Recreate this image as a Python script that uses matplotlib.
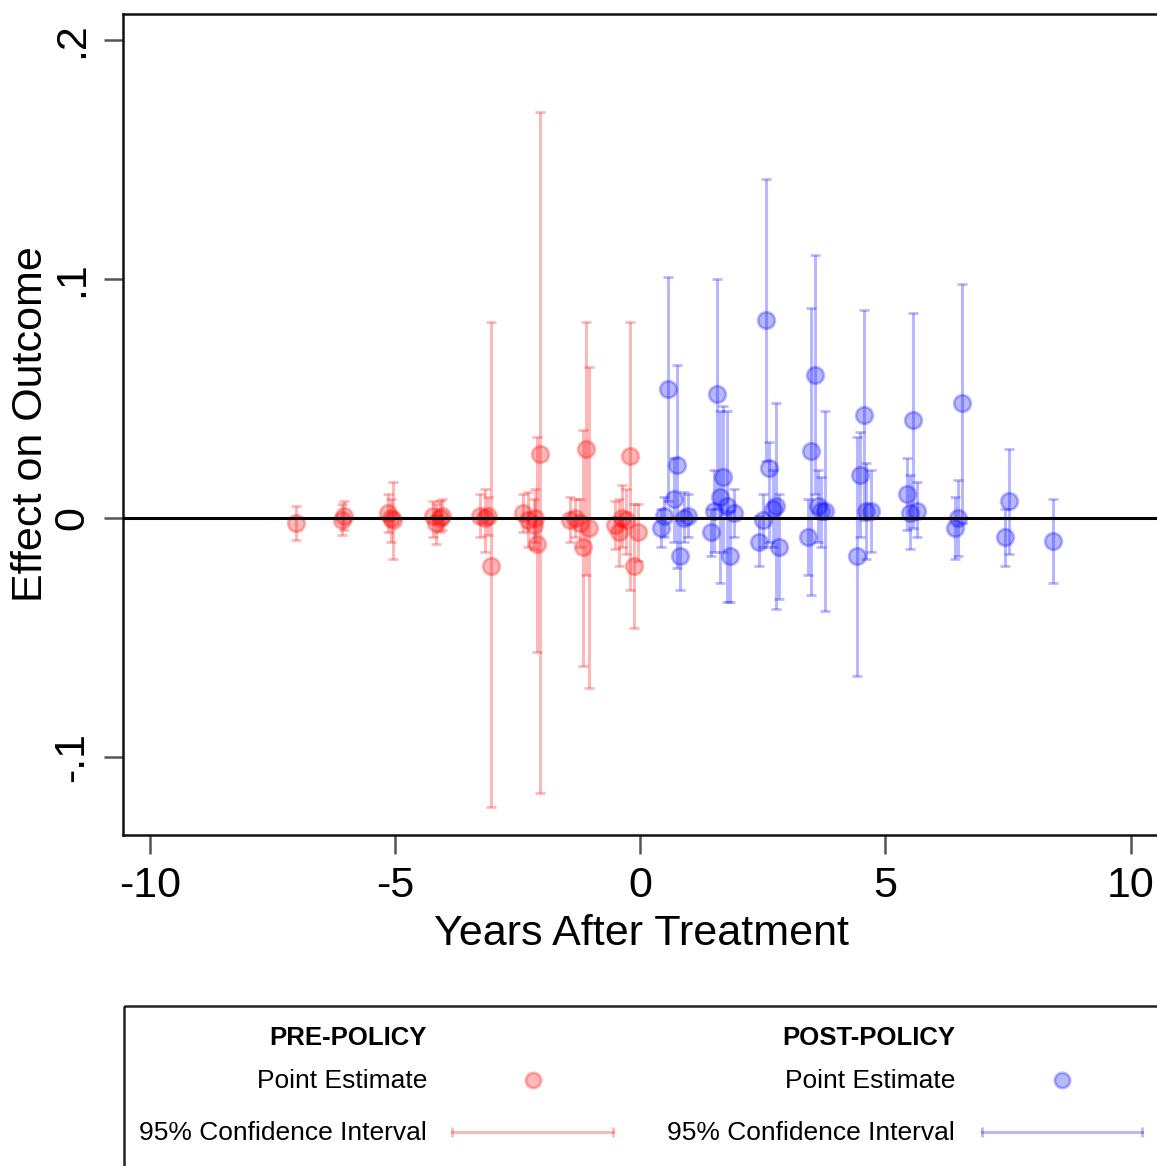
import matplotlib
matplotlib.use("Agg")
import matplotlib.pyplot as plt
import numpy as np
from matplotlib.patches import Rectangle

plt.rcParams['font.family'] = ['Liberation Sans', 'DejaVu Sans']

# event-study estimates before treatment: year, estimate, lower / upper 95% bound
pre_x = [-7.03, -6.08, -6.04, -5.14, -5.08, -5.04, -4.22, -4.16, -4.08, -4.04,
         -3.26, -3.16, -3.10, -3.04, -2.39, -2.28, -2.16, -2.14, -2.10, -2.04,
         -1.43, -1.33, -1.22, -1.16, -1.10, -1.04,
         -0.51, -0.43, -0.37, -0.29, -0.20, -0.12, -0.04]
pre_est = [-0.002, -0.001, 0.001, 0.002, 0.000, -0.001, 0.001, -0.002, 0.000, 0.001,
           0.001, 0.000, 0.001, -0.020, 0.002, -0.001, -0.003, 0.000, -0.011, 0.027,
           -0.001, 0.000, -0.002, -0.012, 0.029, -0.004,
           -0.003, -0.006, 0.000, -0.001, 0.026, -0.020, -0.006]
pre_lo = [-0.009, -0.007, -0.005, -0.006, -0.010, -0.017, -0.008, -0.011, -0.006, -0.005,
          -0.008, -0.014, -0.007, -0.121, -0.006, -0.012, -0.013, -0.010, -0.056, -0.115,
          -0.010, -0.008, -0.012, -0.062, -0.024, -0.071,
          -0.013, -0.020, -0.012, -0.015, -0.030, -0.046, -0.018]
pre_hi = [0.005, 0.006, 0.007, 0.010, 0.008, 0.015, 0.007, 0.006, 0.007, 0.008,
          0.010, 0.012, 0.009, 0.082, 0.010, 0.011, 0.008, 0.012, 0.034, 0.170,
          0.009, 0.008, 0.008, 0.037, 0.082, 0.063,
          0.007, 0.008, 0.014, 0.012, 0.082, 0.006, 0.006]

# estimates after treatment
post_x = [0.43, 0.49, 0.57, 0.69, 0.75, 0.82, 0.90, 0.98,
          1.45, 1.51, 1.57, 1.63, 1.69, 1.77, 1.83, 1.92,
          2.43, 2.51, 2.57, 2.63, 2.71, 2.77, 2.83,
          3.43, 3.49, 3.57, 3.63, 3.69, 3.77,
          4.42, 4.49, 4.57, 4.61, 4.71,
          5.44, 5.50, 5.57, 5.65,
          6.42, 6.48, 6.56,
          7.44, 7.52, 8.42]
post_est = [-0.004, 0.001, 0.054, 0.008, 0.022, -0.016, 0.000, 0.001,
            -0.006, 0.003, 0.052, 0.009, 0.017, 0.005, -0.016, 0.002,
            -0.010, -0.001, 0.083, 0.021, 0.004, 0.005, -0.012,
            -0.008, 0.028, 0.060, 0.005, 0.003, 0.003,
            -0.016, 0.018, 0.043, 0.003, 0.003,
            0.010, 0.002, 0.041, 0.003,
            -0.004, 0.000, 0.048,
            -0.008, 0.007, -0.0095]
post_lo = [-0.012, -0.008, 0.007, -0.010, -0.021, -0.030, -0.010, -0.008,
           -0.016, -0.014, 0.004, -0.027, -0.014, -0.035, -0.035, -0.008,
           -0.020, -0.012, 0.024, -0.010, -0.012, -0.038, -0.034,
           -0.024, -0.032, 0.010, -0.010, -0.012, -0.039,
           -0.066, -0.008, -0.001, -0.017, -0.014,
           -0.005, -0.013, -0.004, -0.008,
           -0.017, -0.016, -0.002,
           -0.020, -0.015, -0.027]
post_hi = [0.004, 0.009, 0.101, 0.025, 0.064, -0.001, 0.011, 0.010,
           0.004, 0.020, 0.100, 0.045, 0.047, 0.045, 0.003, 0.012,
           0.001, 0.010, 0.142, 0.032, 0.020, 0.048, 0.010,
           0.008, 0.088, 0.110, 0.020, 0.017, 0.045,
           0.034, 0.036, 0.087, 0.023, 0.020,
           0.025, 0.018, 0.086, 0.015,
           0.009, 0.016, 0.098,
           0.004, 0.029, 0.008]

RED = (1, 0, 0, 0.28)
BLUE = (0, 0, 1, 0.28)

fig = plt.figure(figsize=(11.57, 11.66), dpi=100)
ax = fig.add_axes([123 / 1157, 1 - 835 / 1166, 1037 / 1157, 821 / 1166])


def draw_series(x, est, lo, hi, col):
    x = np.array(x)
    est = np.array(est)
    yerr = [est - np.array(lo), np.array(hi) - est]
    ax.errorbar(x, est, yerr=yerr, fmt='none', ecolor=col, elinewidth=2.2,
                capsize=3.5, capthick=2, zorder=2)
    ax.plot(x, est, 'o', ms=12, mfc=col, mec=col, mew=2, ls='none', zorder=3)


draw_series(pre_x, pre_est, pre_lo, pre_hi, RED)
draw_series(post_x, post_est, post_lo, post_hi, BLUE)
ax.axhline(0, color='black', lw=2.2, zorder=4)

ax.set_xlim(-10.55, 10.60)
ax.set_ylim(-0.1326, 0.2109)
ax.set_xticks([-10, -5, 0, 5, 10])
ax.set_xticklabels(['-10', '-5', '0', '5', '10'])
ax.set_yticks([-0.1, 0, 0.1, 0.2])
ax.set_yticklabels(['-.1', '0', '.1', '.2'], rotation=90, va='center')
ax.tick_params(axis='both', labelsize=31, length=14, width=1.8, color='#555555', pad=8)
ax.set_xlabel('Years After Treatment', fontsize=31, labelpad=6)
ax.set_ylabel('Effect on Outcome', fontsize=31, labelpad=1)
for s in ax.spines.values():
    s.set_linewidth(1.8)
    s.set_color('#111111')

# legend panel underneath the plot, laid out in pixel units
lg = fig.add_axes([0, 0, 1, 1], zorder=-1)
lg.set_xlim(0, 1157)
lg.set_ylim(1166, 0)
lg.axis('off')
lg.add_patch(Rectangle((124, 1006), 1100, 300, fill=False, ec='#222222', lw=1.8))

for xr, xm, x0, x1, head, col in [(427, 533, 452, 613, 'PRE-POLICY', RED),
                                   (955, 1062, 982, 1142, 'POST-POLICY', BLUE)]:
    lg.text(xr, 1038, head, ha='right', va='center', fontsize=18.5, fontweight='bold')
    lg.text(xr, 1081, 'Point Estimate', ha='right', va='center', fontsize=19)
    lg.text(xr, 1133, '95% Confidence Interval', ha='right', va='center', fontsize=19)
    lg.plot([xm], [1080], 'o', ms=11, mfc=col, mec=col, mew=2)
    lg.plot([x0, x1], [1132, 1132], color=col, lw=2.2, marker='|', ms=7, mew=2)

fig.savefig('out.png', dpi=100)
